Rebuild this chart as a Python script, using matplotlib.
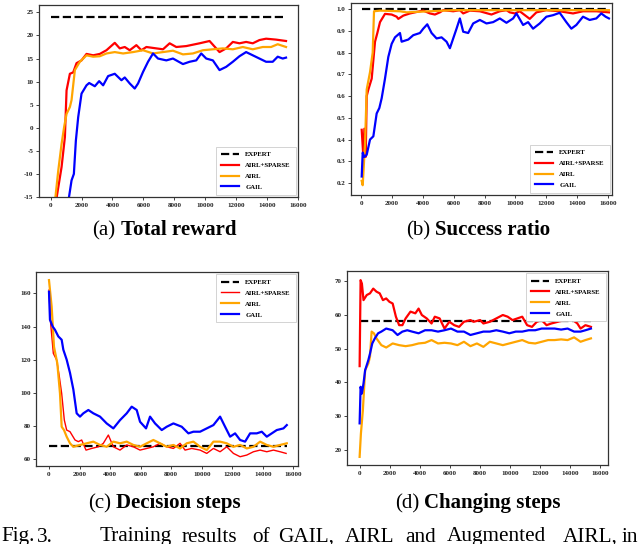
import matplotlib
matplotlib.use("Agg")
import matplotlib.pyplot as plt

plt.rcParams['font.family'] = ['Liberation Serif', 'DejaVu Serif']

labels = ["EXPERT", "AIRL+SPARSE", "AIRL", "GAIL"]
colors = {"EXPERT": "black", "AIRL+SPARSE": "#ff0000", "AIRL": "#ffa500", "GAIL": "#0000ff"}

# ---------------- (a) Total reward ----------------
a_expert = 24.0
a_expert_x = [0, 15226]
a_red_x = [300, 710, 925, 1032, 1247, 1462, 1677, 2000, 2323, 2753, 3183, 3613, 4150, 4473, 4796, 5118,
           5548, 5871, 6194, 6839, 7269, 7699, 8129, 8774, 9634, 10280, 10925, 11355, 11785, 12215,
           12645, 13075, 13505, 13935, 14580, 15226]
a_red_y = [-17, -8.5, -2, 8.1, 11.7, 12, 14, 14.6, 16, 15.7, 16, 16.8, 18.4, 17.2, 17.5, 16.8,
           17.9, 16.8, 17.5, 17.2, 17, 18.3, 17.5, 17.7, 18.3, 18.8, 16.4, 17.2, 18.6, 18.3,
           18.6, 18.3, 19, 19.3, 19.1, 18.8]
a_orange_x = [250, 495, 710, 882, 1032, 1247, 1355, 1570, 1892, 2323, 2753, 3183, 3613, 4150, 4688,
              5333, 5978, 6624, 7269, 7914, 8559, 9204, 9849, 10495, 11140, 11785, 12430, 13075,
              13720, 14258, 14688, 15226]
a_orange_y = [-17, -9.3, -3.5, 0.3, 3, 4.5, 6, 12.5, 14.3, 15.7, 15.4, 15.5, 16.1, 16.4, 16.1,
              16.4, 16.8, 16.1, 16.4, 16.7, 15.9, 16.1, 16.8, 17, 17.2, 17, 17.5, 17,
              17.5, 17.5, 18.1, 17.5]
a_blue_x = [1100, 1355, 1505, 1634, 1785, 2000, 2323, 2495, 2860, 3140, 3398, 3720, 4150, 4581, 4796,
            5118, 5441, 5656, 5978, 6301, 6624, 6946, 7484, 7914, 8559, 8989, 9419, 9742, 10065,
            10495, 10925, 11355, 11785, 12215, 12645, 13075, 13505, 13935, 14365, 14688, 15011, 15226]
a_blue_y = [-17, -11.4, -10, -2.8, 2.3, 7.4, 9.2, 9.7, 9, 10.1, 9.2, 11.2, 11.7, 10.3, 10.9,
            9.6, 8.5, 9.6, 12.1, 14.3, 16.1, 15, 14.6, 15, 13.8, 14.3, 14.6, 16.1, 15,
            14.6, 12.5, 13.2, 14.3, 15.5, 16.4, 15.7, 15, 14.3, 14.3, 15.4, 15, 15.2]
a_yticks = [-15, -10, -5, 0, 5, 10, 15, 20, 25]

# ---------------- (b) Success ratio ----------------
b_expert = 1.0
b_expert_x = [43, 16062]
b_red_x = [43, 151, 216, 302, 367, 474, 690, 906, 1057, 1229, 1552, 1984, 2307, 2415, 2738, 3169,
           3816, 4032, 4463, 4786, 5110, 5325, 5972, 6403, 6619, 7050, 7697, 8451, 8990, 9422,
           9637, 9961, 10284, 10931, 11362, 12009, 12871, 13734, 14381, 15243, 16062]
b_red_y = [0.445, 0.32, 0.45, 0.32, 0.6, 0.63, 0.68, 0.85, 0.89, 0.94, 0.978, 0.975, 0.965, 0.955,
           0.97, 0.98, 0.99, 0.993, 0.98, 0.975, 0.985, 0.995, 0.99, 0.995, 0.98, 0.993, 0.99,
           0.975, 0.99, 0.995, 0.985, 0.98, 0.99, 0.955, 0.985, 0.995, 0.99, 0.98, 0.99, 0.99, 0.985]
b_orange_x = [43, 108, 259, 367, 582, 755, 841, 1229, 2523, 2954, 5972, 10284, 16062]
b_orange_y = [0.21, 0.19, 0.38, 0.63, 0.71, 0.80, 0.99, 0.993, 0.99, 0.985, 0.995, 0.995, 0.995]
b_blue_x = [43, 108, 216, 367, 582, 798, 1013, 1186, 1337, 1552, 1768, 1984, 2199, 2523, 2630, 3062,
            3385, 3816, 4032, 4291, 4571, 4895, 5218, 5541, 5757, 5972, 6188, 6403, 6619, 6942,
            7266, 7697, 8128, 8559, 8991, 9422, 9853, 10069, 10500, 10823, 11147, 11578, 12009,
            12440, 12871, 13302, 13626, 13949, 14381, 14812, 15243, 15566, 15847, 16062]
b_blue_y = [0.23, 0.34, 0.32, 0.33, 0.4, 0.415, 0.52, 0.545, 0.59, 0.68, 0.78, 0.84, 0.87, 0.89,
            0.85, 0.86, 0.88, 0.89, 0.91, 0.93, 0.89, 0.865, 0.87, 0.85, 0.82, 0.865, 0.91, 0.957,
            0.896, 0.89, 0.934, 0.95, 0.934, 0.94, 0.957, 0.937, 0.957, 0.98, 0.927, 0.94, 0.91,
            0.934, 0.965, 0.972, 0.983, 0.94, 0.91, 0.927, 0.965, 0.95, 0.957, 0.98, 0.965, 0.957]
b_yticks = [0.2, 0.3, 0.4, 0.5, 0.6, 0.7, 0.8, 0.9, 1.0]

# ---------------- (c) Decision steps ----------------
c_expert = 67.8
c_expert_x = [0, 15566]
c_blue_x = [0, 65, 240, 393, 611, 830, 939, 1157, 1376, 1594, 1812, 2030, 2249, 2576, 2903, 3340,
            3777, 4213, 4650, 5087, 5414, 5742, 5960, 6353, 6615, 6943, 7380, 7707, 8143, 8689,
            9126, 9453, 9890, 10327, 10763, 11200, 11527, 11855, 12182, 12510, 12837, 13164,
            13601, 13928, 14256, 14583, 14911, 15348, 15566]
c_blue_y = [161, 144, 140, 138, 134, 132, 126, 120, 112, 102, 87.6, 85.6, 87.6, 89.6, 87.6, 85.6,
            81.5, 78.5, 83.5, 87.6, 91.6, 89.6, 82.5, 78.5, 85.6, 81.5, 77.5, 79.5, 81.5, 79.5,
            75.5, 76.5, 76.5, 78.5, 80.5, 85.6, 79.5, 73.5, 75.5, 71.5, 70.5, 75.5,
            75.5, 76.5, 73.5, 75.5, 77.5, 78.5, 80.5]
c_red_x = [0, 109, 284, 502, 677, 830, 1004, 1157, 1376, 1703, 1921, 2139, 2423, 2794, 3231, 3558,
           3886, 4213, 4650, 5087, 5523, 5960, 6397, 6833, 7270, 7707, 8143, 8580, 8907, 9344,
           9890, 10327, 10763, 11200, 11636, 12073, 12510, 12946, 13383, 13820, 14256, 14693,
           15130, 15521]
c_red_y = [162, 141.9, 123.8, 119.8, 109.7, 99.6, 83.5, 77.5, 76.5, 71.5, 70.5, 71.5, 65.4, 66.4,
           67.4, 69.5, 74.5, 67.4, 65.4, 68.5, 67.4, 65.4, 66.4, 67.4, 69.5, 67.4, 66.4, 69.5,
           65.4, 66.4, 65.4, 63.4, 66.4, 64.4, 67.4, 63.4, 61.4, 62.4, 64.4, 65.4, 64.4, 65.4,
           64.4, 63.4]
c_orange_x = [0, 175, 327, 546, 720, 830, 982, 1157, 1376, 1594, 2030, 2467, 2903, 3340, 3777,
              4213, 4650, 5087, 5523, 5960, 6397, 6833, 7270, 7707, 8143, 8580, 9016, 9453, 9890,
              10327, 10763, 11200, 11636, 12073, 12510, 12946, 13383, 13820, 14256, 14693,
              15130, 15566]
c_orange_y = [168, 152, 127.8, 117.7, 99.6, 79.5, 77.5, 73.5, 69.5, 67.4, 68.5, 69.5, 70.5, 68.5,
              67.4, 70.5, 69.5, 70.5, 68.5, 67.4, 69.5, 71.5, 69.5, 67.4, 68.5, 66.4, 69.5, 70.5,
              67.4, 65.4, 70.5, 70.5, 69.5, 67.4, 68.5, 66.4, 67.4, 70.5, 68.5, 67.4, 68.5, 69.5]
c_yticks = [60, 80, 100, 120, 140, 160]

# ---------------- (d) Changing steps ----------------
d_expert = 58.1
d_expert_x = [0, 15394]
d_red_x = [0, 65, 151, 259, 474, 690, 906, 1121, 1337, 1552, 1768, 1984, 2199, 2415, 2630, 2846,
           3062, 3385, 3708, 3924, 4140, 4463, 4786, 5002, 5325, 5649, 5972, 6296, 6619, 6942,
           7374, 7589, 8020, 8236, 8667, 9098, 9530, 9853, 10176, 10500, 10823, 11147, 11470,
           11794, 12117, 12440, 12764, 13195, 13626, 14057, 14489, 14704, 15028, 15394]
d_red_y = [44.8, 70.2, 69.2, 64.3, 65.8, 66.3, 67.7, 66.8, 66.3, 64.3, 64.8, 63.8, 63.3, 59.4,
           56.9, 56.9, 58.9, 60.9, 60.4, 61.8, 59.9, 58.9, 57.4, 59.4, 58.9, 55.9, 57.9, 56.9,
           56.4, 57.9, 58.4, 57.9, 58.4, 57.4, 57.9, 58.9, 59.9, 59.4, 58.4, 58.9, 59.4, 56.9,
           56.4, 57.9, 58.4, 56.9, 57.4, 57.9, 58.4, 58.9, 57.4, 55.9, 56.9, 56.4]
d_orange_x = [0, 86, 216, 367, 582, 690, 798, 949, 1121, 1445, 1768, 2199, 2630, 3062, 3493, 3924,
              4355, 4786, 5218, 5649, 6080, 6511, 6942, 7374, 7805, 8236, 8667, 9098, 9530, 9961,
              10392, 10823, 11254, 11686, 12117, 12548, 12979, 13410, 13842, 14273, 14704,
              15028, 15394]
d_orange_y = [18, 24.9, 31.8, 43.6, 45.6, 47.6, 55, 54.5, 53, 51, 50.3, 51.5, 51, 50.7, 51, 51.5,
              51.7, 52.5, 51.5, 51.7, 51.5, 51, 52, 50.7, 51.5, 50.5, 52, 51.5, 51, 51.5,
              52, 52.5, 51.7, 51.5, 52, 52.5, 52.5, 52.7, 52.5, 53.3, 52, 52.5, 53]
d_blue_x = [0, 65, 151, 259, 367, 582, 690, 841, 1013, 1229, 1445, 1768, 2199, 2523, 2846, 3169,
            3493, 3924, 4355, 4786, 5218, 5649, 6080, 6511, 6942, 7374, 7805, 8236, 8667, 9098,
            9530, 9961, 10392, 10823, 11254, 11686, 12117, 12548, 12979, 13410, 13842, 14273,
            14704, 15028, 15394]
d_blue_y = [27.9, 38.7, 36.7, 39.7, 43.6, 46.6, 48.5, 51.5, 53, 54.5, 55, 55.9, 55.4, 54, 55,
            55.4, 55, 54.5, 55.4, 55.4, 55, 55.4, 55.9, 55, 55, 54, 54.5, 55, 55, 55.4,
            55, 54.5, 55, 55, 55.4, 55.4, 55.9, 55.9, 55.9, 55.6, 55.9, 55, 55, 55.4, 55.9]
d_yticks = [20, 30, 40, 50, 60, 70]

x_ticks = [0, 2000, 4000, 6000, 8000, 10000, 12000, 14000, 16000]

caption_words = ["Fig.", "3.", "Training", "results", "of", "GAIL,", "AIRL", "and",
                 "Augmented", "AIRL,", "in"]

W, H = 640, 544
fig = plt.figure(figsize=(6.4, 5.44), dpi=100)


def px_axes(l, r, t, b):
    return fig.add_axes([l / W, 1 - b / H, (r - l) / W, (b - t) / H])


def style(ax, xlim, ylim, yticks, fmt):
    ax.set_xlim(*xlim)
    ax.set_ylim(*ylim)
    ax.set_xticks(x_ticks)
    ax.set_xticklabels([str(v) for v in x_ticks])
    ax.set_yticks(yticks)
    ax.set_yticklabels([fmt(v) for v in yticks])
    ax.tick_params(labelsize=5, length=2, width=0.6, pad=2, colors='#222222')
    for lab in ax.get_xticklabels() + ax.get_yticklabels():
        lab.set_fontweight('bold')
    for s in ax.spines.values():
        s.set_linewidth(0.9)
        s.set_color('#333333')


def draw(ax, ex_x, ex_v, series, red_lw=1.6):
    ax.plot(ex_x, [ex_v, ex_v], '--', color=colors["EXPERT"], lw=1.6, label="EXPERT")
    for name, xs, ys in series:
        lw = red_lw if name == "AIRL+SPARSE" else 1.6
        ax.plot(xs, ys, color=colors[name], lw=lw, label=name)


def legend(ax, loc):
    h, l = ax.get_legend_handles_labels()
    order = [l.index(n) for n in labels]
    lg = ax.legend([h[i] for i in order], [l[i] for i in order], loc=loc,
                   prop={'family': 'Liberation Serif', 'weight': 'bold', 'size': 4.9},
                   handlelength=2.6, handletextpad=1.0, labelspacing=0.75,
                   borderaxespad=0.35, framealpha=1, fancybox=False, edgecolor='#cccccc',
                   borderpad=0.7)
    lg.get_frame().set_linewidth(0.6)


# (a)
axa = px_axes(39, 298, 5, 197)
draw(axa, a_expert_x, a_expert, [("AIRL+SPARSE", a_red_x, a_red_y),
                                 ("AIRL", a_orange_x, a_orange_y),
                                 ("GAIL", a_blue_x, a_blue_y)])
style(axa, (-750, 16000), (-15, 26.6), a_yticks, lambda v: str(v))
legend(axa, 'lower right')

# (b)
axb = px_axes(351, 612, 3, 195)
draw(axb, b_expert_x, b_expert, [("AIRL+SPARSE", b_red_x, b_red_y),
                                 ("AIRL", b_orange_x, b_orange_y),
                                 ("GAIL", b_blue_x, b_blue_y)])
style(axb, (-650, 16260), (0.145, 1.028), b_yticks, lambda v: f"{v:.1f}")
legend(axb, 'lower right')

# (c)
axc = px_axes(36, 298, 272, 466)
draw(axc, c_expert_x, c_expert, [("AIRL+SPARSE", c_red_x, c_red_y),
                                 ("AIRL", c_orange_x, c_orange_y),
                                 ("GAIL", c_blue_x, c_blue_y)], red_lw=1.0)
style(axc, (-850, 16300), (55.8, 172.9), c_yticks, lambda v: str(v))
legend(axc, 'upper right')

# (d)
axd = px_axes(347, 608, 271, 465)
draw(axd, d_expert_x, d_expert, [("AIRL+SPARSE", d_red_x, d_red_y),
                                 ("AIRL", d_orange_x, d_orange_y),
                                 ("GAIL", d_blue_x, d_blue_y)])
style(axd, (-840, 16530), (15.6, 72.9), d_yticks, lambda v: str(v))
legend(axd, 'upper right')

# sub-captions
caps = [("(a)", "Total reward", 115, 121, 235),
        ("(b)", "Success ratio", 430, 435, 235),
        ("(c)", "Decision steps", 111, 116, 508),
        ("(d)", "Changing steps", 419, 424, 508)]
for pre, bold, xr, xl, yb in caps:
    fig.text(xr / W, 1 - yb / H, pre, ha='right', va='baseline', fontsize=15,
             family='Liberation Serif')
    fig.text(xl / W, 1 - yb / H, bold, ha='left', va='baseline', fontsize=15,
             family='Liberation Serif', fontweight='bold')

# figure caption (justified line, cut at the bottom edge as in the reference)
word_x = [1, 37, 100, 182, 252, 278, 345, 405, 447, 563, 622]
for w, x in zip(caption_words, word_x):
    fig.text(x / W, 1 - 541.5 / H, w, ha='left', va='baseline', fontsize=15.3,
             family='Liberation Serif')

fig.savefig("out.png", dpi=100)
